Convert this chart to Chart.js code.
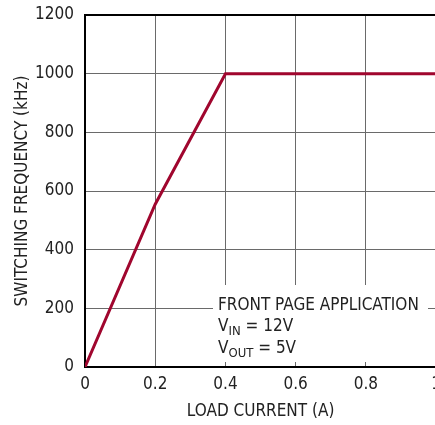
<!DOCTYPE html>
<html>
<head>
<meta charset="utf-8">
<script src="https://cdn.jsdelivr.net/npm/chart.js@4.4.1/dist/chart.umd.min.js"></script>
<style>
html,body{margin:0;padding:0;background:#fff;overflow:hidden;}
#wrap{width:448px;height:425px;}
</style>
</head>
<body>
<div id="wrap"><canvas id="c" width="448" height="425"></canvas></div>
<script>
const loadCurrent = [0, 0.2, 0.4, 1.0];
const switchingFreq = [0, 555, 1000, 1000];
const xTickValues = [0, 0.2, 0.4, 0.6, 0.8, 1];
const yTickValues = [0, 200, 400, 600, 800, 1000, 1200];
const xTitle = 'LOAD CURRENT (A)';
const yTitle = 'SWITCHING FREQUENCY (kHz)';
const noteLines = ['FRONT PAGE APPLICATION', ['V', 'IN', ' = 12V'], ['V', 'OUT', ' = 5V']];

const FONT = '"Liberation Sans Narrow", "DejaVu Sans Condensed", Arial, sans-serif';
const TXT = '#222';

const notePlugin = {
  id: 'note',
  beforeDatasetsDraw(chart) {
    const ctx = chart.ctx;
    ctx.save();
    ctx.fillStyle = '#fff';
    ctx.fillRect(213, 285, 215, 77);
    ctx.fillStyle = TXT;
    ctx.textBaseline = 'alphabetic';
    ctx.textAlign = 'left';
    ctx.font = '17px ' + FONT;
    ctx.fillText(noteLines[0], 218, 310);
    const rows = [331, 353];
    [noteLines[1], noteLines[2]].forEach((parts, i) => {
      let x = 218;
      const y = rows[i];
      ctx.font = '17px ' + FONT;
      ctx.fillText(parts[0], x, y);
      x += ctx.measureText(parts[0]).width;
      ctx.font = '13px ' + FONT;
      ctx.fillText(parts[1], x, y + 4);
      x += ctx.measureText(parts[1]).width;
      ctx.font = '17px ' + FONT;
      ctx.fillText(parts[2], x, y);
    });
    ctx.restore();
  }
};

new Chart(document.getElementById('c'), {
  type: 'scatter',
  data: {
    datasets: [{
      data: loadCurrent.map((x, i) => ({x: x, y: switchingFreq[i]})),
      showLine: true,
      borderColor: '#A0062E',
      borderWidth: 3,
      pointRadius: 0,
      fill: false,
      tension: 0
    }]
  },
  options: {
    responsive: false,
    animation: false,
    layout: {padding: {top: 15, left: 0, right: 0, bottom: 0}},
    plugins: {legend: {display: false}, tooltip: {enabled: false}},
    scales: {
      x: {
        type: 'linear', min: 0, max: 1,
        afterBuildTicks: s => { s.ticks = xTickValues.map(v => ({value: v})); },
        afterFit: s => { s.height = 58; },
        grid: {color: '#6a6a6a', lineWidth: 1, drawTicks: false},
        border: {display: true, color: '#000', width: 2},
        ticks: {
          padding: 7,
          color: TXT,
          font: {family: FONT, size: 17},
          maxRotation: 0,
          callback: v => String(v)
        },
        title: {display: true, text: xTitle, color: TXT, font: {family: FONT, size: 17}, padding: {top: 0, bottom: 3}}
      },
      y: {
        type: 'linear', min: 0, max: 1200,
        afterBuildTicks: s => { s.ticks = yTickValues.map(v => ({value: v})); },
        afterFit: s => { s.width = 85; s.paddingTop = 0; s.paddingBottom = 0; },
        grid: {color: ctx => ctx.tick && ctx.tick.value === 1200 ? '#000' : '#6a6a6a', lineWidth: ctx => ctx.tick && ctx.tick.value === 1200 ? 2 : 1, drawTicks: false},
        border: {display: true, color: '#000', width: 2},
        ticks: {
          padding: 11,
          color: TXT,
          font: {family: FONT, size: 17},
          callback: v => String(v)
        },
        title: {display: true, text: yTitle, color: TXT, font: {family: FONT, size: 17}, padding: {top: 12, bottom: 0}}
      }
    }
  },
  plugins: [notePlugin]
});
</script>
</body>
</html>
